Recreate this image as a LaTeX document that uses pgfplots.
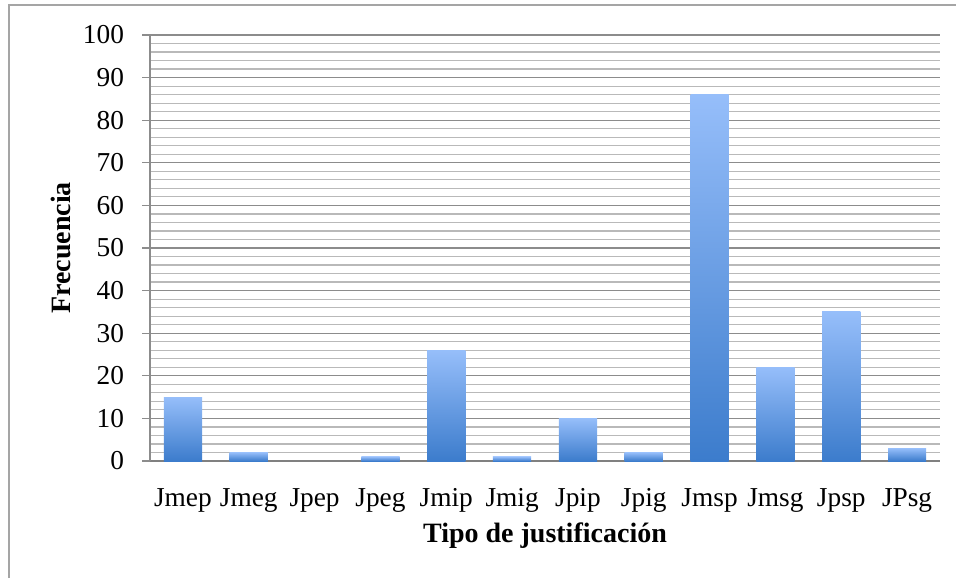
\documentclass[border=0pt]{standalone}
\usepackage{fontspec}
\setmainfont{Liberation Serif}
\usepackage{pgfplots}
\pgfplotsset{compat=1.18}

\definecolor{bartop}{RGB}{150,190,250}
\definecolor{barbot}{RGB}{60,124,204}
\definecolor{majgrid}{RGB}{140,140,140}
\definecolor{mingrid}{RGB}{185,185,185}
\definecolor{frame}{RGB}{165,165,165}

\begin{document}
\begin{tikzpicture}[x=1pt,y=1pt]
% page: 956x578 px at 0.75 pt per px
\path[use as bounding box] (0,0) rectangle (717,433.5);
\draw[frame, line width=1.4pt] (6.75,0) -- (6.75,429.75) -- (717,429.75);
\begin{axis}[
    at={(112.5pt,87.75pt)}, anchor=south west,
    scale only axis,
    width=592.5pt, height=319.5pt,
    xmin=-0.5, xmax=11.5,
    ymin=0, ymax=100,
    xtick={0,...,11},
    xticklabels={Jmep,Jmeg,Jpep,Jpeg,Jmip,Jmig,Jpip,Jpig,Jmsp,Jmsg,Jpsp,JPsg},
    ytick={0,10,...,100},
    minor y tick num=4,
    ymajorgrids, yminorgrids,
    major grid style={majgrid, line width=0.9pt},
    minor grid style={mingrid, line width=0.9pt},
    axis x line*=bottom, axis y line*=left,
    x axis line style={draw={rgb,255:red,128;green,128;blue,128}, line width=1.5pt, -},
    y axis line style={majgrid, line width=1.1pt, -},
    xtick style={draw=none},
    ytick style={majgrid, line width=0.9pt},
    tick align=outside,
    major tick length=6pt, minor tick length=0pt,
    ytick pos=left,
    /pgf/number format/assume math mode=true,
    ticklabel style={font=\fontsize{20.5}{22}\selectfont},
    yticklabel style={xshift=-10pt},
    xticklabel style={yshift=-11pt},
    xlabel={\textbf{Tipo de justificación}},
    ylabel={\textbf{Frecuencia}},
    label style={font=\fontsize{21}{23}\selectfont},
    ylabel style={yshift=2.5pt},
    xlabel style={yshift=-1pt},
    mybar/.style={ybar, bar width=0.58, bar shift=0pt, draw=none,
        top color=bartop, bottom color=barbot},
]
% one plot per bar, so that each bar gets its own gradient
\addplot[mybar] coordinates {(0,15)};
\addplot[mybar] coordinates {(1,2)};
\addplot[mybar] coordinates {(2,0)};
\addplot[mybar] coordinates {(3,1)};
\addplot[mybar] coordinates {(4,26)};
\addplot[mybar] coordinates {(5,1)};
\addplot[mybar] coordinates {(6,10)};
\addplot[mybar] coordinates {(7,2)};
\addplot[mybar] coordinates {(8,86)};
\addplot[mybar] coordinates {(9,22)};
\addplot[mybar] coordinates {(10,35)};
\addplot[mybar] coordinates {(11,3)};
\end{axis}
\end{tikzpicture}
\end{document}
